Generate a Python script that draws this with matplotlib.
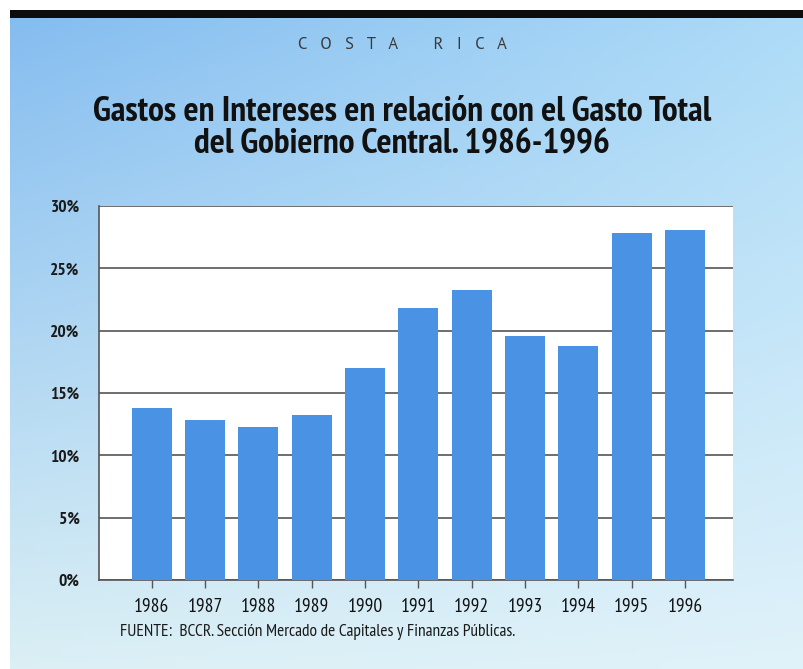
import numpy as np
import matplotlib.pyplot as plt
from matplotlib.ticker import FuncFormatter

years = ['1986', '1987', '1988', '1989', '1990', '1991', '1992', '1993', '1994', '1995', '1996']
gastos = [13.8, 12.8, 12.3, 13.2, 17.0, 21.8, 23.3, 19.6, 18.8, 27.8, 28.1]
yticks = [0, 5, 10, 15, 20, 25, 30]

FONT = ['PT Sans Narrow', 'DejaVu Sans']
BAR = '#4a92e4'

fig = plt.figure(figsize=(8.04, 6.69), dpi=100)
fig.patch.set_facecolor('white')

# fondo azul degradado (cuatro esquinas)
bg = fig.add_axes([10 / 804, 0, 794 / 804, 651 / 669])
gx, gy = np.meshgrid(np.linspace(0, 1, 200), np.linspace(0, 1, 200))
tl = np.array([0.52, 0.74, 0.94])
tr = np.array([0.68, 0.86, 0.97])
bl = np.array([0.86, 0.94, 0.96])
br = np.array([0.88, 0.95, 0.98])
gx, gy = gx[..., None], gy[..., None]
img = (tl * (1 - gx) * (1 - gy) + tr * gx * (1 - gy) + bl * (1 - gx) * gy + br * gx * gy)
bg.imshow(img, aspect='auto', extent=[0, 1, 0, 1], origin='upper')
bg.axis('off')

# barra negra superior
fig.patches.append(plt.Rectangle((10 / 804, 1 - 18 / 669), 794 / 804, 8 / 669, transform=fig.transFigure,
                                 facecolor='#0d0d0d', edgecolor='none', zorder=5))

ax = fig.add_axes([99 / 804, 1 - 580 / 669, (733 - 99) / 804, (580 - 206) / 669])
ax.set_facecolor('white')
x = np.arange(len(years))
ax.bar(x, gastos, width=0.75, color=BAR, zorder=3)
ax.set_xlim(-0.99, 10.9)
ax.set_ylim(0, 30)
ax.set_yticks(yticks)
ax.yaxis.set_major_formatter(FuncFormatter(lambda v, p: '%d%%' % v))
ax.grid(axis='y', color='#555555', linewidth=1.2, zorder=1)
ax.set_xticks(x)
ax.set_xticklabels(years)
for s in ['top', 'right']:
    ax.spines[s].set_visible(False)
ax.spines['left'].set_color('#555555')
ax.spines['bottom'].set_color('#555555')
ax.spines['left'].set_linewidth(1.2)
ax.spines['bottom'].set_linewidth(1.2)
ax.tick_params(axis='y', length=0, pad=14)
ax.tick_params(axis='x', length=6, width=1, color='#555555', pad=7)
for lab in ax.get_yticklabels():
    lab.set_family(FONT)
    lab.set_fontweight('bold')
    lab.set_fontsize(12.5)
    lab.set_color('#1a1a1a')
for lab in ax.get_xticklabels():
    lab.set_family(FONT)
    lab.set_fontsize(14)
    lab.set_color('#111111')

fig.text(0.5, 1 - 45 / 669, 'C   O   S   T   A        R   I   C   A', ha='center', va='center',
         fontsize=12, color='#3a3a3a', family=['PT Sans', 'DejaVu Sans'])
fig.text(0.5, 1 - 128 / 669, 'Gastos en Intereses en relación con el Gasto Total\ndel Gobierno Central. 1986-1996',
         ha='center', va='center', fontsize=25.5, fontweight='bold', color='#111111',
         family=FONT, linespacing=1.0)
fig.text(120 / 804, 1 - 632 / 669, 'FUENTE:  BCCR. Sección Mercado de Capitales y Finanzas Públicas.',
         ha='left', va='center', fontsize=12.5, color='#1a1a1a', family=FONT)

fig.savefig('out.png', dpi=100)
